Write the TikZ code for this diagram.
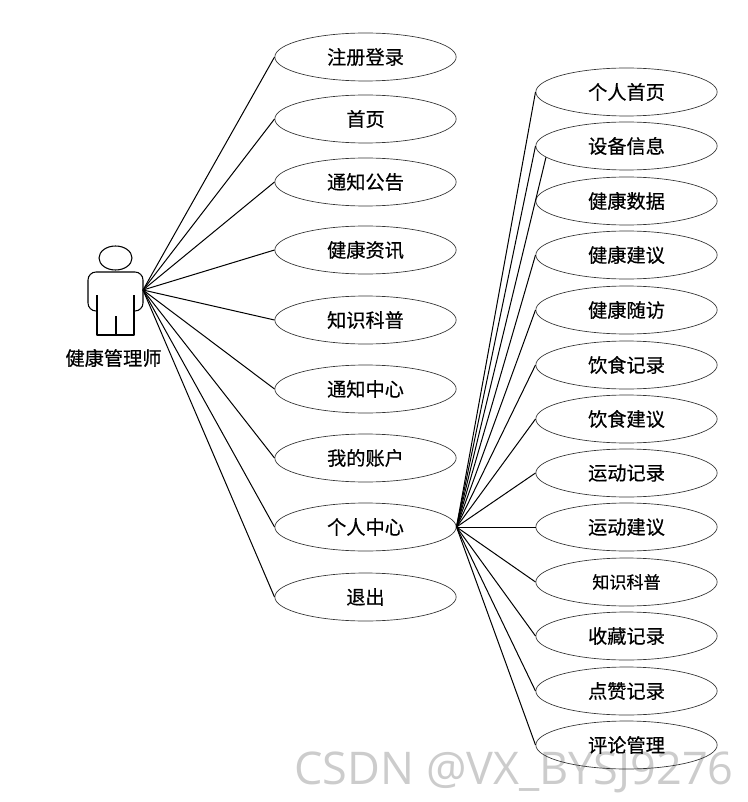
\documentclass[tikz,border=0pt]{standalone}
\usepackage{fontspec}
\usepackage{xcolor}
\setmainfont[FakeBold=0.5]{Noto Sans CJK SC}
\newfontfamily\markfont{Open Sans}
\usetikzlibrary{shapes.geometric}

\begin{document}
\begin{tikzpicture}[
        x=0.75pt, y=-0.75pt,
        usecase/.style={draw=black!80, ellipse, line width=0.5pt, inner sep=0pt, minimum width=136pt, minimum height=36pt, font=\fontsize{14.4pt}{16pt}\selectfont},
        smallcase/.style={usecase, font=\fontsize{12.8pt}{15pt}\selectfont},
        edge/.style={line width=0.75pt},
        figure/.style={line width=0.8pt, line join=round},
    ]
        \useasboundingbox (0,0) rectangle (748,802);

        \node[text=black!20, font=\markfont\fontsize{33.8pt}{38pt}\selectfont] (mark) at (514,772) {CSDN @VX\_BYSJ9276};

        % left column
        \foreach \i/\y/\label in {1/57/注册登录, 2/119/首页, 3/182/通知公告, 4/250/健康资讯, 5/320/知识科普, 6/389/通知中心, 7/458/我的账户, 8/527/个人中心, 9/597/退出} {
            \node[usecase] (l\i) at (365.5,\y) {\label};
        }

        % right column
        \foreach \i/\y/\label in {1/92/个人首页, 2/146/设备信息, 3/201/健康数据, 4/255/健康建议, 5/310/健康随访, 6/365/饮食记录, 7/419/饮食建议, 8/473/运动记录, 9/527/运动建议, 11/636/收藏记录, 12/691/点赞记录, 13/745/评论管理} {
            \node[usecase] (r\i) at (626.5,\y) {\label};
        }
        \node[smallcase] (r10) at (626.5,582) {知识科普};

        % actor
        \node[draw, ellipse, figure, inner sep=0pt, minimum width=24.75pt, minimum height=18pt] (head) at (115.5,258) {};
        \draw[figure, rounded corners=6pt] (97,311) -- (88,311) -- (88,272) -- (143,272) -- (143,311) -- (134,311);
        \draw[figure] (97,295) -- (97,335) -- (134,335) -- (134,295);
        \draw[figure] (116,316) -- (116,335);
        \node[font=\fontsize{14.4pt}{16pt}\selectfont] (actor) at (113.5,358) {健康管理师};
        \coordinate (hub) at (143,290);

        \foreach \i in {1,...,9} {
            \draw[edge] (hub) -- (l\i.west);
        }

        \foreach \i in {1,2,4,5,6,7,8,9,10,11,12,13} {
            \draw[edge] (l8.east) -- (r\i.west);
        }
        \draw[edge] (l8.east) -- (r2.188);
    \end{tikzpicture}
\end{document}
